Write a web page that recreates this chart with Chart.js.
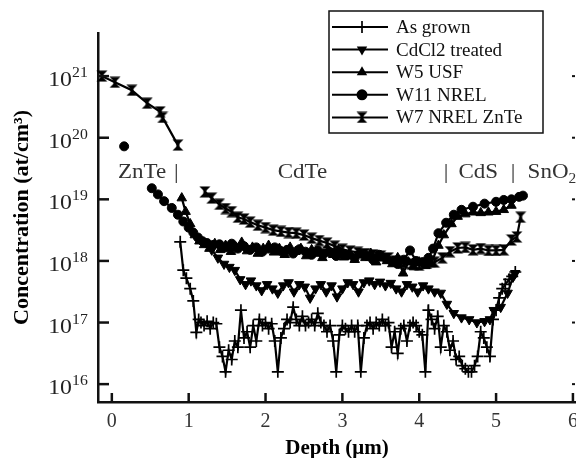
<!DOCTYPE html>
<html><head><meta charset="utf-8">
<script src="https://cdn.jsdelivr.net/npm/chart.js@4/dist/chart.umd.min.js"></script>
<style>html,body{margin:0;padding:0;background:#fff;overflow:hidden}#wrap{width:576px;height:458px;position:relative}</style>
</head><body><div id="wrap"><canvas id="c" width="576" height="458"></canvas></div>
<script>
// ---- DATA (depth in µm, concentration as log10 exponent in at/cm^3) ----
const seriesNames = ['As grown', 'CdCl2 treated', 'W5 USF', 'W11 NREL', 'W7 NREL ZnTe'];
const xTickValues = [0, 1, 2, 3, 4, 5, 6];
const yTickExponents = [16, 17, 18, 19, 20, 21];

const asGrownDepth = [0.89,0.93,0.97,1.02,1.06,1.10,1.13,1.16,1.20,1.24,1.28,1.32,1.36,1.40,1.44,1.48,1.52,1.56,1.60,1.64,1.68,1.72,1.76,1.80,1.84,1.88,1.92,1.96,2.00,2.04,2.08,2.12,2.16,2.20,2.24,2.28,2.32,2.36,2.40,2.44,2.48,2.52,2.56,2.60,2.64,2.68,2.72,2.76,2.80,2.84,2.88,2.92,2.96,3.00,3.04,3.08,3.12,3.16,3.20,3.24,3.28,3.32,3.36,3.40,3.44,3.48,3.52,3.56,3.60,3.64,3.68,3.72,3.76,3.80,3.84,3.88,3.92,3.96,4.00,4.04,4.08,4.12,4.16,4.20,4.24,4.28,4.32,4.36,4.40,4.44,4.48,4.52,4.56,4.60,4.64,4.68,4.72,4.76,4.80,4.84,4.88,4.92,4.96,5.00,5.04,5.08,5.12,5.17,5.21,5.25];
const asGrownLog   = [18.31,17.85,17.72,17.55,17.35,16.84,17.05,17.00,16.95,17.02,16.90,17.00,16.98,16.60,16.45,16.20,16.55,16.40,16.70,16.60,17.20,16.75,16.85,16.60,16.95,16.70,17.05,16.95,17.00,16.90,16.98,16.70,16.20,16.75,16.90,17.05,17.00,17.25,17.05,16.95,17.10,16.95,17.00,17.05,16.95,17.15,17.00,16.95,16.85,16.95,16.70,16.20,16.80,16.95,16.90,16.85,16.95,16.85,16.95,16.20,16.75,16.95,17.00,16.90,17.00,16.95,17.05,16.95,17.00,16.60,16.85,16.50,16.90,16.95,16.70,16.95,17.00,16.95,16.85,16.80,16.20,17.20,17.05,16.90,17.10,16.60,16.95,16.85,16.55,16.70,16.40,16.45,16.30,16.25,16.20,16.20,16.30,16.45,16.85,16.75,16.60,16.45,17.05,17.20,17.40,17.55,17.62,17.70,17.75,17.82];

const cdcl2Depth = [1.30,1.38,1.46,1.53,1.60,1.67,1.74,1.81,1.88,1.95,2.02,2.09,2.16,2.23,2.30,2.37,2.44,2.51,2.58,2.65,2.72,2.79,2.86,2.93,3.00,3.07,3.14,3.21,3.28,3.35,3.42,3.49,3.56,3.63,3.70,3.77,3.84,3.91,3.98,4.05,4.12,4.20,4.28,4.36,4.45,4.55,4.65,4.75,4.85,4.92,4.97,5.06,5.15,5.22,5.25];
const cdcl2Log   = [18.18,18.05,17.95,17.90,17.85,17.70,17.62,17.68,17.60,17.52,17.62,17.55,17.48,17.60,17.65,17.50,17.62,17.58,17.40,17.55,17.62,17.50,17.60,17.42,17.55,17.65,17.62,17.50,17.65,17.68,17.62,17.66,17.60,17.64,17.55,17.50,17.62,17.58,17.50,17.60,17.55,17.50,17.48,17.30,17.15,17.08,17.05,17.00,17.02,17.05,17.20,17.25,17.48,17.74,17.80];

const w5Depth = [0.91,0.96,1.02,1.08,1.14,1.20,1.27,1.34,1.41,1.48,1.55,1.62,1.69,1.76,1.83,1.90,1.97,2.04,2.11,2.18,2.25,2.32,2.39,2.46,2.53,2.60,2.67,2.74,2.81,2.88,2.95,3.02,3.09,3.16,3.23,3.30,3.37,3.44,3.51,3.58,3.65,3.72,3.79,3.86,3.93,4.00,4.08,4.15,4.25,4.32,4.42,4.50,4.60,4.70,4.80,4.90,5.00,5.10,5.20];
const w5Log   = [19.02,18.80,18.60,18.42,18.32,18.26,18.20,18.28,18.18,18.25,18.15,18.22,18.30,18.16,18.22,18.12,18.20,18.25,18.14,18.20,18.10,18.22,18.15,18.20,18.08,18.18,18.12,18.05,18.16,18.10,18.18,18.06,18.12,18.02,18.10,18.05,18.12,17.98,18.06,18.00,17.95,18.05,17.80,17.98,17.90,17.98,17.92,17.95,18.25,18.42,18.60,18.72,18.76,18.79,18.78,18.79,18.80,18.83,18.90];

const w11Depth = [0.16,0.30,0.52,0.60,0.68,0.78,0.86,0.93,1.00,1.06,1.12,1.18,1.24,1.32,1.40,1.48,1.56,1.64,1.72,1.80,1.88,1.96,2.04,2.12,2.20,2.28,2.36,2.44,2.52,2.60,2.68,2.76,2.84,2.92,3.00,3.08,3.16,3.24,3.32,3.40,3.48,3.56,3.64,3.72,3.80,3.88,3.96,4.04,4.12,4.18,4.25,4.35,4.45,4.55,4.70,4.85,5.00,5.10,5.20,5.30,5.35];
const w11Log   = [19.86,null,19.18,19.08,18.97,18.86,18.75,18.64,18.54,18.46,18.38,18.32,18.29,18.26,18.27,18.22,18.28,18.20,18.24,18.18,18.22,18.15,18.20,18.22,18.16,18.18,18.12,18.19,18.15,18.10,18.17,18.12,18.14,18.08,18.12,18.10,18.05,18.12,18.08,18.02,18.10,18.05,18.00,17.95,18.02,18.17,18.00,17.98,18.05,18.20,18.45,18.62,18.75,18.83,18.88,18.93,18.96,18.99,19.00,19.04,19.06];

const w7Depth = [-0.13,0.04,0.26,0.46,0.63,0.66,0.86,1.00,1.21,1.30,1.40,1.48,1.56,1.64,1.72,1.80,1.90,2.00,2.10,2.20,2.30,2.40,2.50,2.60,2.70,2.80,2.90,3.00,3.10,3.20,3.30,3.40,3.50,3.60,3.70,3.80,3.90,4.00,4.10,4.20,4.30,4.40,4.50,4.60,4.70,4.80,4.90,5.00,5.10,5.20,5.27,5.32];
const w7Log   = [21.00,20.90,20.77,20.56,20.42,20.33,19.88,null,19.12,19.02,18.92,18.85,18.80,18.71,18.68,18.63,18.58,18.54,18.50,18.48,18.46,18.45,18.42,18.37,18.33,18.29,18.24,18.19,18.16,18.14,18.12,18.10,18.08,18.05,18.00,17.97,17.95,17.93,17.96,17.98,18.05,18.15,18.21,18.22,18.18,18.20,18.17,18.17,18.18,18.34,18.39,18.71];

// layer annotations: text, anchor depth (µm), horizontal alignment
const layerLabels = [
  {text: 'ZnTe', depth: 0.08, align: 'left'},
  {text: '|', depth: 0.84, align: 'center'},
  {text: 'CdTe', depth: 2.48, align: 'center'},
  {text: '|', depth: 4.35, align: 'center'},
  {text: 'CdS', depth: 4.51, align: 'left'},
  {text: '|', depth: 5.22, align: 'center'},
  {text: 'SnO', depth: 5.41, align: 'left', sub: '2'}
];
const layerLabelLog = 19.35;

// ---- helpers ----
function pts(d, l) { return d.map((x, i) => ({x: x, y: l[i] === null ? null : Math.pow(10, l[i])})); }
const FONT = "'Liberation Serif', 'Times New Roman', serif";

function makeHourglass(size) {
  const c = document.createElement('canvas');
  c.width = size; c.height = size;
  const g = c.getContext('2d');
  g.fillStyle = '#000';
  g.beginPath();
  g.moveTo(0.5, 0.5); g.lineTo(size - 0.5, 0.5); g.lineTo(size / 2, size / 2);
  g.lineTo(size - 0.5, size - 0.5); g.lineTo(0.5, size - 0.5); g.lineTo(size / 2, size / 2);
  g.closePath(); g.fill();
  g.fillRect(size / 2 - 1.5, 1, 3, size - 2);
  return c;
}
const hourglass = makeHourglass(12);

const markerDefs = [
  {pointStyle: 'cross', radius: 6, rotation: 0, borderWidth: 1.7},
  {pointStyle: 'triangle', radius: 5.5, rotation: 180, borderWidth: 1},
  {pointStyle: 'triangle', radius: 5.5, rotation: 0, borderWidth: 1},
  {pointStyle: 'circle', radius: 4.5, rotation: 0, borderWidth: 1},
  {pointStyle: hourglass, radius: 6, rotation: 0, borderWidth: 1}
];
const seriesData = [
  pts(asGrownDepth, asGrownLog), pts(cdcl2Depth, cdcl2Log), pts(w5Depth, w5Log),
  pts(w11Depth, w11Log), pts(w7Depth, w7Log)
];

const datasets = seriesNames.map((name, i) => ({
  label: name,
  data: seriesData[i],
  borderColor: '#000',
  backgroundColor: '#000',
  borderWidth: 2.2,
  pointStyle: markerDefs[i].pointStyle,
  pointRadius: markerDefs[i].radius,
  pointRotation: markerDefs[i].rotation,
  pointBorderWidth: markerDefs[i].borderWidth,
  pointBackgroundColor: '#000',
  pointBorderColor: '#000',
  tension: 0,
  spanGaps: false,
  clip: false
}));

function drawMarker(ctx, i, x, y) {
  const m = markerDefs[i];
  ctx.save();
  ctx.fillStyle = '#000'; ctx.strokeStyle = '#000'; ctx.lineWidth = m.borderWidth;
  if (m.pointStyle === 'cross') {
    ctx.beginPath(); ctx.moveTo(x, y - m.radius); ctx.lineTo(x, y + m.radius); ctx.stroke();
  } else if (m.pointStyle === 'triangle') {
    const r = m.radius + 0.5, s = m.rotation ? -1 : 1;
    ctx.beginPath();
    ctx.moveTo(x, y - s * r);
    ctx.lineTo(x + r * 0.866, y + s * r * 0.5);
    ctx.lineTo(x - r * 0.866, y + s * r * 0.5);
    ctx.closePath(); ctx.fill();
  } else if (m.pointStyle === 'circle') {
    ctx.beginPath(); ctx.arc(x, y, m.radius + 1, 0, Math.PI * 2); ctx.fill();
  } else {
    ctx.drawImage(m.pointStyle, x - 6, y - 6);
  }
  ctx.restore();
}

// text drawn slightly wider than the font, as in the (horizontally stretched) source figure
function stretchText(ctx, txt, x, y, sx, align) {
  const w = ctx.measureText(txt).width * sx;
  let left = x;
  if (align === 'center') left = x - w / 2;
  else if (align === 'right') left = x - w;
  ctx.save();
  ctx.translate(left, y); ctx.scale(sx, 1);
  ctx.textAlign = 'left';
  ctx.fillText(txt, 0, 0);
  ctx.restore();
  return left + w;
}

const decorPlugin = {
  id: 'decor',
  afterDraw(chart) {
    const ctx = chart.ctx, xs = chart.scales.x, ys = chart.scales.y, a = chart.chartArea;
    ctx.save();
    ctx.strokeStyle = '#111'; ctx.lineWidth = 2.5; ctx.lineCap = 'butt';
    // inward ticks
    xTickValues.forEach(v => {
      const px = xs.getPixelForValue(v);
      ctx.beginPath(); ctx.moveTo(px, a.bottom); ctx.lineTo(px, a.bottom - 9); ctx.stroke();
    });
    yTickExponents.forEach(e => {
      const py = ys.getPixelForValue(Math.pow(10, e));
      ctx.lineWidth = 2.5;
      ctx.beginPath(); ctx.moveTo(a.left, py); ctx.lineTo(a.left + 11, py); ctx.stroke();
      // opposite-frame tick stubs
      ctx.lineWidth = 2;
      ctx.beginPath(); ctx.moveTo(a.right - 4, py); ctx.lineTo(a.right - 1, py); ctx.stroke();
    });
    // y tick labels with superscript exponents
    ctx.fillStyle = '#222'; ctx.textBaseline = 'alphabetic';
    yTickExponents.forEach(e => {
      const py = ys.getPixelForValue(Math.pow(10, e));
      ctx.font = '22px ' + FONT;
      stretchText(ctx, '10', 72, py + 10, 1.08, 'right');
      ctx.font = '15px ' + FONT;
      stretchText(ctx, String(e), 72, py + 1, 1.05, 'left');
    });
    // layer annotations
    ctx.fillStyle = '#333';
    const ly = ys.getPixelForValue(Math.pow(10, layerLabelLog));
    layerLabels.forEach(l => {
      const px = xs.getPixelForValue(l.depth);
      ctx.font = '20px ' + FONT;
      const end = stretchText(ctx, l.text, px, ly, 1.15, l.align);
      if (l.sub) {
        ctx.font = '14px ' + FONT;
        stretchText(ctx, l.sub, end, ly + 5, 1.1, 'left');
      }
    });
    // legend
    const bx = 329, by = 11, bw = 214, bh = 122;
    ctx.fillStyle = '#fff'; ctx.fillRect(bx, by, bw, bh);
    ctx.strokeStyle = '#111'; ctx.lineWidth = 1.5;
    ctx.strokeRect(bx, by, bw, bh);
    chart.data.datasets.forEach((ds, i) => {
      const ry = by + 16 + i * 22.6;
      ctx.strokeStyle = '#000'; ctx.lineWidth = 2;
      ctx.beginPath(); ctx.moveTo(bx + 3, ry); ctx.lineTo(bx + 59, ry); ctx.stroke();
      drawMarker(ctx, i, bx + 33, ry);
      ctx.fillStyle = '#111'; ctx.font = '19px ' + FONT; ctx.textBaseline = 'middle';
      stretchText(ctx, ds.label, bx + 67, ry + 1, 1.0, 'left');
    });
    ctx.restore();
  }
};

new Chart(document.getElementById('c'), {
  type: 'line',
  data: {datasets: datasets},
  options: {
    responsive: false,
    animation: false,
    devicePixelRatio: 1,
    layout: {autoPadding: false, padding: {left: 0, top: 33, right: 0, bottom: 0}},
    plugins: {legend: {display: false}, tooltip: {enabled: false}},
    scales: {
      x: {
        type: 'linear', min: -0.18, max: 6.04,
        afterBuildTicks: s => { s.ticks = xTickValues.map(v => ({value: v})); },
        afterFit: s => { s.height = 56; s.paddingLeft = 0; s.paddingRight = 0; },
        grid: {display: false},
        border: {display: true, width: 2.5, color: '#111'},
        ticks: {font: {family: FONT, size: 20}, color: '#333', padding: 0, maxRotation: 0, autoSkip: false},
        title: {display: true, text: 'Depth (μm)', color: '#000', font: {family: FONT, size: 21, weight: 'bold', lineHeight: 1}, padding: {top: 0, bottom: -1}}
      },
      y: {
        type: 'logarithmic', min: Math.pow(10, 15.71), max: Math.pow(10, 21.7),
        afterBuildTicks: s => { s.ticks = yTickExponents.map(e => ({value: Math.pow(10, e)})); },
        afterFit: s => { s.width = 98; s.paddingTop = 0; s.paddingBottom = 0; },
        grid: {display: false},
        border: {display: true, width: 2.5, color: '#111'},
        ticks: {display: false},
        title: {display: true, text: 'Concentration (at/cm³)', color: '#000', font: {family: FONT, size: 22, weight: 'bold'}, padding: {top: 9, bottom: 0}}
      }
    }
  },
  plugins: [decorPlugin]
});
</script>
</body></html>
